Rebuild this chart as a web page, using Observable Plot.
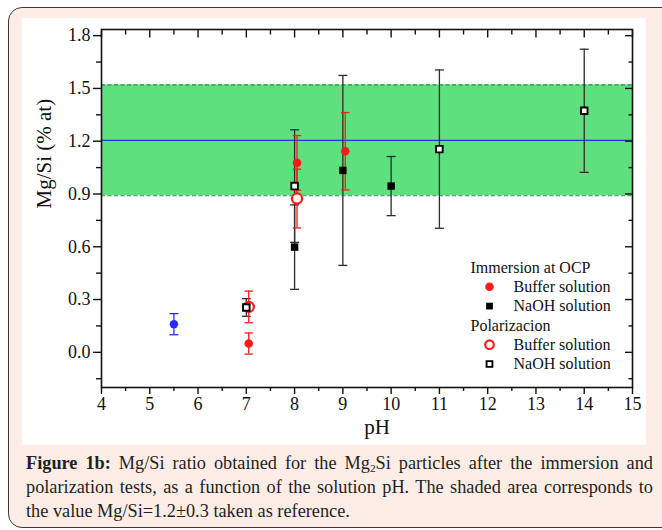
<!DOCTYPE html>
<html>
<head>
<meta charset="utf-8">
<script src="https://cdn.jsdelivr.net/npm/d3@7"></script>
<script src="https://cdn.jsdelivr.net/npm/@observablehq/plot@0.6"></script>
<style>
  html, body { margin: 0; padding: 0; }
  body { width: 662px; height: 530px; overflow: hidden; background: #fff; position: relative; }
  #box { position: absolute; left: 8px; top: 7px; width: 720px; height: 519px; border: 1.5px solid #3a3a3a; border-radius: 14px; background: #fdede6; }
  #panel { position: absolute; left: 22px; top: 18px; width: 624px; height: 427px; background: #fff; }
  #caption { position: absolute; left: 26px; top: 451px; width: 627px; font-family: "Liberation Serif", serif; font-size: 18.3px; line-height: 24px; color: #231f20; }
  #caption div { white-space: nowrap; }
  #caption .j { text-align: justify; text-align-last: justify; }
  sub { font-size: 0.62em; line-height: 0; vertical-align: -0.25em; }
</style>
</head>
<body>
<div id="box"></div>
<div id="panel"></div>
<div id="caption">
  <div class="j"><b>Figure 1b:</b> Mg/Si ratio obtained for the Mg<sub>2</sub>Si particles after the immersion and</div>
  <div class="j">polarization tests, as a function of the solution pH. The shaded area corresponds to</div>
  <div>the value Mg/Si=1.2±0.3 taken as reference.</div>
</div>
<script>
// ---- data ----
const xTicks = [4, 5, 6, 7, 8, 9, 10, 11, 12, 13, 14, 15];
const xMinorTicks = [4.5, 5.5, 6.5, 7.5, 8.5, 9.5, 10.5, 11.5, 12.5, 13.5, 14.5];
const yTicks = [0.0, 0.3, 0.6, 0.9, 1.2, 1.5, 1.8];
const yMinorTicks = [-0.15, 0.15, 0.45, 0.75, 1.05, 1.35, 1.65];

// reference band
const bandLow = 0.89;
const bandHigh = 1.52;
const refValue = 1.205;

// blue point (not in legend)
const otherPH = [5.5];
const otherVal = [0.16];
const otherErr = [0.06];

// Immersion at OCP - Buffer solution (red filled circle)
const immBufferPH = [7.05, 8.05, 9.05];
const immBufferVal = [0.05, 1.077, 1.143];
const immBufferErr = [0.06, 0.155, 0.22];

// Immersion at OCP - NaOH solution (black filled square)
const immNaOHPH = [8, 9, 10];
const immNaOHVal = [0.598, 1.034, 0.945];
const immNaOHErr = [0.24, 0.54, 0.168];

// Polarizacion - Buffer solution (red open circle)
const polBufferPH = [7.05, 8.05];
const polBufferVal = [0.258, 0.874];
const polBufferErr = [0.09, 0.167];

// Polarizacion - NaOH solution (black open square)
const polNaOHPH = [7, 8, 11, 14];
const polNaOHVal = [0.255, 0.945, 1.155, 1.373];
const polNaOHErr = [0.05, 0.32, 0.45, 0.35];

const legendHeaders = ["Immersion at OCP", "Polarizacion"];
const legendLabels = ["Buffer solution", "NaOH solution"];

const yLabel = "Mg/Si (% at)";
const xLabel = "pH";

// ---- build ----
const toRows = (ph, v, e) => ph.map((p, i) => ({pH: p, v: v[i], lo: v[i] - e[i], hi: v[i] + e[i]}));
const other = toRows(otherPH, otherVal, otherErr);
const immBuffer = toRows(immBufferPH, immBufferVal, immBufferErr);
const immNaOH = toRows(immNaOHPH, immNaOHVal, immNaOHErr);
const polBuffer = toRows(polBufferPH, polBufferVal, polBufferErr);
const polNaOH = toRows(polNaOHPH, polNaOHVal, polNaOHErr);

const RED = "#ff1a1a";
const BLUE = "#2a2aff";
const DARK = "#2b2b2b";
const noText = () => "";

const capSymbol = {
  draw(ctx, size) {
    const w = Math.sqrt(size / Math.PI);
    ctx.moveTo(-w, 0);
    ctx.lineTo(w, 0);
  }
};

function errorBars(rows, color, capR) {
  return [
    Plot.ruleX(rows, {x: "pH", y1: "lo", y2: "hi", stroke: color, strokeWidth: 1.3}),
    Plot.dot(rows, {x: "pH", y: "lo", symbol: capSymbol, r: capR, stroke: color, strokeWidth: 1.3, fill: "none"}),
    Plot.dot(rows, {x: "pH", y: "hi", symbol: capSymbol, r: capR, stroke: color, strokeWidth: 1.3, fill: "none"})
  ];
}

const symFilledCircle = {symbol: "circle", r: 4.3, fill: RED, stroke: "none"};
const symFilledSquare = {symbol: "square", r: 4.2, fill: "#000", stroke: "none"};
const symOpenCircle = {symbol: "circle", r: 5.1, fill: "#fff", stroke: RED, strokeWidth: 2.2};
const symOpenSquare = {symbol: "square", r: 3.7, fill: "#fff", stroke: "#000", strokeWidth: 1.9};

// legend layout (pixel offsets from frame top-left)
const legX0 = 369, legMarkX = 388, legTextX = 412, legY0 = 238, legStep = 19.3;
const legendItems = [
  {type: "header", text: legendHeaders[0]},
  {type: "item", text: legendLabels[0], sym: symFilledCircle},
  {type: "item", text: legendLabels[1], sym: {...symFilledSquare, r: 3.8}},
  {type: "header", text: legendHeaders[1]},
  {type: "item", text: legendLabels[0], sym: {...symOpenCircle, r: 4.3}},
  {type: "item", text: legendLabels[1], sym: {...symOpenSquare, r: 3.3}}
];
const legendMarks = legendItems.flatMap((it, i) => {
  const dy = legY0 + i * legStep;
  const textOpts = {text: d => d, frameAnchor: "top-left", textAnchor: "start", lineAnchor: "middle", dy, fontSize: 16, fill: "#111"};
  if (it.type === "header") {
    return [Plot.text([it.text], {...textOpts, dx: legX0})];
  }
  return [
    Plot.dot([it.text], {frameAnchor: "top-left", dx: legMarkX, dy, ...it.sym}),
    Plot.text([it.text], {...textOpts, dx: legTextX})
  ];
});

const axisStyle = {label: null, stroke: "#111", strokeWidth: 1.4};

const chart = Plot.plot({
  width: 624,
  height: 427,
  marginLeft: 79,
  marginRight: 14,
  marginTop: 11,
  marginBottom: 58,
  x: {domain: [4, 15]},
  y: {domain: [-0.2, 1.835]},
  style: {fontFamily: "'Liberation Serif', 'Times New Roman', serif", fontSize: "18px", color: "#111", background: "#fff", overflow: "visible"},
  marks: [
    Plot.rect([{lo: bandLow, hi: bandHigh}], {y1: "lo", y2: "hi", fill: "#5fe07f"}),
    Plot.ruleY([bandLow, bandHigh], {stroke: "#2a9038", strokeWidth: 1.2, strokeDasharray: "4,2.5"}),
    Plot.ruleY([refValue], {stroke: "#1f33e8", strokeWidth: 1.3}),

    ...errorBars(other, BLUE, 4.5),
    ...errorBars(immNaOH, DARK, 4.5),
    ...errorBars(polNaOH, DARK, 4.5),
    ...errorBars(immBuffer, RED, 4.2),
    ...errorBars(polBuffer, RED, 4.2),

    Plot.dot(other, {x: "pH", y: "v", symbol: "circle", r: 4.2, fill: BLUE, stroke: "none"}),
    Plot.dot(immNaOH, {x: "pH", y: "v", ...symFilledSquare}),
    Plot.dot(immBuffer, {x: "pH", y: "v", ...symFilledCircle}),
    Plot.dot(polBuffer, {x: "pH", y: "v", ...symOpenCircle}),
    Plot.dot(polNaOH, {x: "pH", y: "v", ...symOpenSquare}),

    // bottom axis (outward ticks)
    Plot.axisX(xTicks, {anchor: "bottom", tickSize: 7, tickPadding: 3, tickFormat: d3.format("d"), ...axisStyle}),
    Plot.axisX(xMinorTicks, {anchor: "bottom", tickSize: 4, tickFormat: noText, ...axisStyle}),
    // top axis (inward ticks)
    Plot.axisX(xTicks, {anchor: "top", tickSize: 7.5, dy: 7.5, tickFormat: noText, ...axisStyle}),
    Plot.axisX(xMinorTicks, {anchor: "top", tickSize: 4.5, dy: 4.5, tickFormat: noText, ...axisStyle}),
    // left axis (outward ticks)
    Plot.axisY(yTicks, {anchor: "left", tickSize: 8, tickPadding: 3, tickFormat: d3.format(".1f"), ...axisStyle}),
    Plot.axisY(yMinorTicks, {anchor: "left", tickSize: 5, tickFormat: noText, ...axisStyle}),
    // right axis (inward ticks)
    Plot.axisY(yTicks, {anchor: "right", tickSize: 8, dx: -8, tickFormat: noText, ...axisStyle}),
    Plot.axisY(yMinorTicks, {anchor: "right", tickSize: 4.5, dx: -4.5, tickFormat: noText, ...axisStyle}),

    Plot.frame({stroke: "#111", strokeWidth: 1.6}),

    Plot.text([yLabel], {text: d => d, frameAnchor: "left", dx: -57, rotate: -90, fontSize: 21, fill: "#111"}),
    Plot.text([xLabel], {text: d => d, frameAnchor: "bottom", dx: 10, dy: 46, fontSize: 21, fill: "#111"}),

    ...legendMarks
  ]
});

document.getElementById("panel").appendChild(chart);

// keep justified caption lines within the caption width
document.querySelectorAll("#caption .j").forEach(el => {
  let ls = 0;
  while (el.scrollWidth > el.clientWidth + 0.5 && ls > -1.2) {
    ls -= 0.05;
    el.style.letterSpacing = ls + "px";
  }
});
</script>
</body>
</html>
